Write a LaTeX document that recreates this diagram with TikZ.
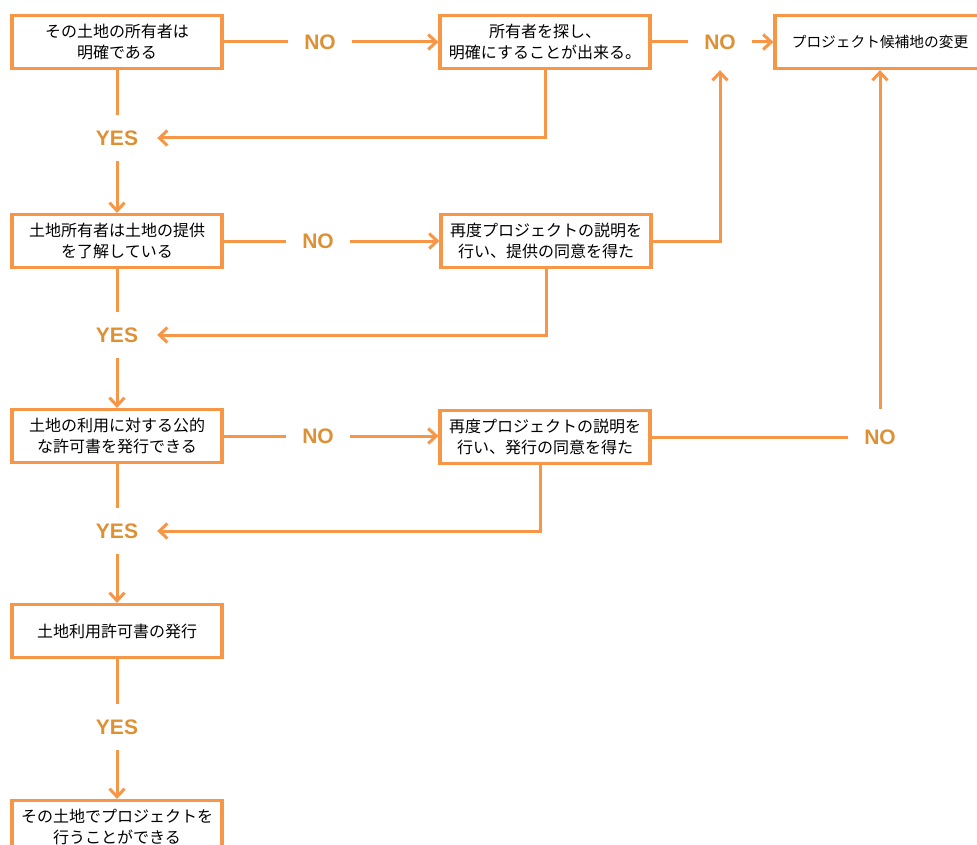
\documentclass[tikz,border=0pt]{standalone}
\usepackage{fontspec}
\setmainfont{Noto Sans CJK JP}
\newfontfamily\labfont{Liberation Sans}
\usetikzlibrary{arrows.meta}
\definecolor{org}{RGB}{247,150,70}
\definecolor{labc}{RGB}{222,144,52}
\begin{document}
\begin{tikzpicture}[x=1pt,y=-1pt,
  box/.style={draw=org, line width=3.2pt, fill=white, minimum width=210pt, minimum height=53pt, align=center, inner sep=0pt, font=\fontsize{16}{21}\selectfont},
  lab/.style={minimum width=64pt, minimum height=56pt, inner sep=0pt, text=labc, font=\labfont\bfseries\fontsize{21}{21}\selectfont},
  yes/.style={lab, minimum width=80pt, minimum height=46pt},
  ln/.style={draw=org, line width=3pt},
  arr/.style={ln, -{Straight Barb[length=8pt,width=15pt]}}
]
\useasboundingbox (0,0) rectangle (977,845);
% boxes
\node[box] (A) at (117,42) {その土地の所有者は\\明確である};
\node[box] (B) at (545,42) {所有者を探し、\\明確にすることが出来る。};
\node[box, font=\fontsize{14.7}{21}\selectfont] (C) at (880,42) {プロジェクト候補地の変更};
\node[box] (D) at (117,241) {土地所有者は土地の提供\\を了解している};
\node[box] (E) at (546,241) {再度プロジェクトの説明を\\行い、提供の同意を得た};
\node[box] (F) at (117,436) {土地の利用に対する公的\\な許可書を発行できる};
\node[box] (G) at (545,437) {再度プロジェクトの説明を\\行い、発行の同意を得た};
\node[box] (H) at (117,631) {土地利用許可書の発行};
\node[box] (I) at (117,827) {その土地でプロジェクトを\\行うことができる};
% labels
\node[lab] (N1) at (320,42) {NO};
\node[lab] (N2) at (720,42) {NO};
\node[lab] (N3) at (318,241) {NO};
\node[lab] (N4) at (318,436) {NO};
\node[lab] (N5) at (880,437) {NO};
\node[yes] (Y1) at (117,138) {YES};
\node[yes] (Y2) at (117,335) {YES};
\node[yes] (Y3) at (117,531) {YES};
\node[yes] (Y4) at (117,727) {YES};
% connectors
\draw[ln] (A) -- (N1); \draw[arr] (N1) -- (B);
\draw[ln] (B) -- (N2); \draw[arr] (N2) -- (C);
\draw[ln] (A) -- (Y1); \draw[arr] (Y1) -- (D);
\draw[arr] (B.south) |- (Y1.east);
\draw[ln] (D) -- (N3); \draw[arr] (N3) -- (E);
\draw[arr] (E.east) -| (N2.south);
\draw[ln] (D) -- (Y2); \draw[arr] (Y2) -- (F);
\draw[arr] (E.south) |- (Y2.east);
\draw[ln] (F) -- (N4); \draw[arr] (N4) -- (N4 -| G.west);
\draw[ln] (G) -- (N5); \draw[arr] (N5) -- (N5 |- C.south);
\draw[ln] (F) -- (Y3); \draw[arr] (Y3) -- (H);
\draw[arr] ([xshift=-5pt]G.south) |- (Y3.east);
\draw[ln] (H) -- (Y4); \draw[arr] (Y4) -- (I);
\end{tikzpicture}
\end{document}
